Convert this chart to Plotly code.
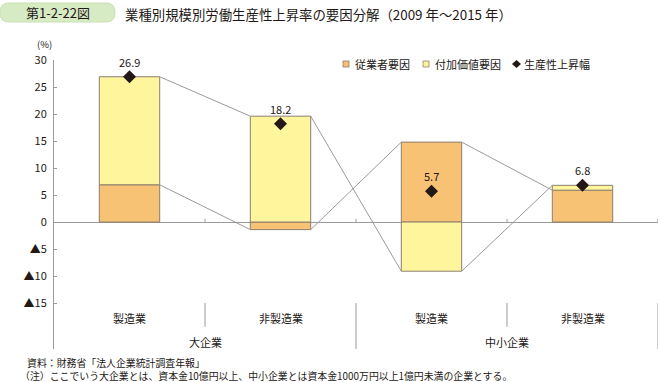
import plotly.graph_objects as go

# ---- data ----
subcats = ["製造業", "非製造業", "製造業", "非製造業"]
groups = ["大企業", "中小企業"]
employment_factor = [6.9, -1.4, 14.8, 5.9]      # 従業者要因
value_added_factor = [20.0, 19.6, -9.1, 0.9]    # 付加価値要因
productivity = [26.9, 18.2, 5.7, 6.8]           # 生産性上昇幅
series_names = ["従業者要因", "付加価値要因", "生産性上昇幅"]
ytick_vals = [30, 25, 20, 15, 10, 5, 0, -5, -10, -15]
ytick_text = ["30", "25", "20", "15", "10", "5", "0", "▲5", "▲10", "▲15"]

FONT = "Noto Sans CJK JP"
TXT = "#231815"
ORANGE = "#F8C275"
YELLOW = "#FFF59D"
EDGE = "#8C7E70"
GRAY = "#9a9a9a"

n = len(subcats)
xc = [i + 0.5 for i in range(n)]
BW = 0.4

W, H, L, T, B, R = 660, 382, 54, 60, 33, 2
pw, ph = W - L - R, H - T - B
def px(xp):
    return (xp - L) / pw
def py(yp):
    return (H - B - yp) / ph

fig = go.Figure()

# connector (series) lines
def ends_va():
    out = []
    for e, v in zip(employment_factor, value_added_factor):
        base = max(e, 0) if v >= 0 else min(e, 0)
        out.append(base + v)
    return out

for ends in (employment_factor, ends_va()):
    lx, ly = [], []
    for i in range(n - 1):
        lx += [xc[i] + BW / 2, xc[i + 1] - BW / 2, None]
        ly += [ends[i], ends[i + 1], None]
    fig.add_trace(go.Scatter(x=lx, y=ly, mode="lines", line=dict(color=GRAY, width=1),
                             showlegend=False, hoverinfo="skip"))

fig.add_trace(go.Bar(x=xc, y=employment_factor, width=BW, name=series_names[0],
                     marker=dict(color=ORANGE, line=dict(color=EDGE, width=1)), showlegend=False))
fig.add_trace(go.Bar(x=xc, y=value_added_factor, width=BW, name=series_names[1],
                     marker=dict(color=YELLOW, line=dict(color=EDGE, width=1)), showlegend=False))
fig.add_trace(go.Scatter(x=xc, y=productivity, mode="markers", name=series_names[2],
                         marker=dict(symbol="diamond", size=10, color=TXT), showlegend=False))

# data labels
for x, v in zip(xc, productivity):
    fig.add_annotation(x=x, y=v, text=f"{v:.1f}", showarrow=False, yshift=15,
                       font=dict(size=11, color=TXT, family=FONT))

shapes = []
# small ticks on zero line at category boundaries
for b in range(1, n + 1):
    shapes.append(dict(type="line", xref="x", yref="y", x0=b, x1=b, y0=0, y1=0.6,
                       line=dict(color=GRAY, width=1)))
# category separators
for b in (1, 3):
    shapes.append(dict(type="line", xref="x", yref="y", x0=b, x1=b, y0=-15, y1=-19.4,
                       line=dict(color=GRAY, width=1)))
for b in (2, n):
    shapes.append(dict(type="line", xref="x", yref="y", x0=b, x1=b, y0=-15, y1=-23.5,
                       line=dict(color=GRAY, width=1)))

# title badge (rounded rect, paper coords)
x0, x1, y0, y1 = px(0), px(115), py(22), py(3)
rx, ry = 9 / pw, 9 / ph
path = (f"M {x0+rx},{y1} L {x1-rx},{y1} Q {x1},{y1} {x1},{y1-ry} L {x1},{y0+ry} "
        f"Q {x1},{y0} {x1-rx},{y0} L {x0+rx},{y0} Q {x0},{y0} {x0},{y0+ry} "
        f"L {x0},{y1-ry} Q {x0},{y1} {x0+rx},{y1} Z")
shapes.append(dict(type="path", xref="paper", yref="paper", path=path,
                   fillcolor="#D6EAC4", line=dict(color="#C8E0B2", width=1), layer="below"))

# manual legend
leg_y = py(64)
leg_items = [(343, "square", ORANGE), (423, "square", YELLOW), (513, "diamond", TXT)]
for (lxp, kind, col), name in zip(leg_items, series_names):
    if kind == "square":
        shapes.append(dict(type="rect", xref="paper", yref="paper",
                           x0=px(lxp), x1=px(lxp + 6), y0=py(67), y1=py(61),
                           fillcolor=col, line=dict(color=EDGE, width=0.8)))
        tx = lxp + 10
    else:
        cx = lxp + 3.5
        shapes.append(dict(type="path", xref="paper", yref="paper",
                           path=(f"M {px(cx)},{py(60)} L {px(cx+4.5)},{py(64)} "
                                 f"L {px(cx)},{py(68)} L {px(cx-4.5)},{py(64)} Z"),
                           fillcolor=col, line=dict(color=col, width=0)))
        tx = lxp + 9
    fig.add_annotation(xref="paper", yref="paper", x=px(tx), y=leg_y, xanchor="left",
                       yanchor="middle", text=name, showarrow=False,
                       font=dict(size=11, color=TXT, family=FONT))

fig.update_layout(shapes=shapes)

# category labels
for x, s in zip(xc, subcats):
    fig.add_annotation(x=x, y=-17.8, text=s, showarrow=False, yanchor="middle",
                       font=dict(size=11, color=TXT, family=FONT))
for gi, g in enumerate(groups):
    fig.add_annotation(x=gi * 2 + 1, y=-22.2, text=g, showarrow=False, yanchor="middle",
                       font=dict(size=11, color=TXT, family=FONT))

# texts
def ptext(xp, yp, text, size, xanchor="left"):
    fig.add_annotation(xref="paper", yref="paper", x=px(xp), y=py(yp), text=text,
                       xanchor=xanchor, yanchor="middle", showarrow=False, borderpad=0,
                       font=dict(size=size, color=TXT, family=FONT))

ptext(58, 12.5, "第1-2-22図", 13, "center")
ptext(124, 13.5, "業種別規模別労働生産性上昇率の要因分解（2009 年〜2015 年）", 13.4)
ptext(44, 44.5, "(%)", 9.5, "center")
ptext(26, 362.5, "資料：財務省「法人企業統計調査年報」", 9.9)
ptext(19, 375.5, "（注）ここでいう大企業とは、資本金10億円以上、中小企業とは資本金1000万円以上1億円未満の企業とする。", 9.9)

fig.update_layout(
    width=W, height=H,
    margin=dict(l=L, r=R, t=T, b=B, pad=0),
    paper_bgcolor="white", plot_bgcolor="white",
    barmode="relative",
    font=dict(family=FONT, size=11, color=TXT),
    showlegend=False,
    xaxis=dict(range=[0, n], showticklabels=False, showgrid=False, zeroline=False,
               showline=False, ticks="", fixedrange=True),
    yaxis=dict(range=[-23.5, 30], tickvals=ytick_vals, ticktext=ytick_text,
               ticks="inside", ticklen=3, tickcolor=GRAY, showline=True, linecolor=GRAY,
               linewidth=1, showgrid=False, zeroline=True, zerolinecolor=GRAY,
               zerolinewidth=1, tickfont=dict(size=11, color=TXT, family=FONT),
               ticklabelstandoff=4),
)

fig.write_html("out.html")
